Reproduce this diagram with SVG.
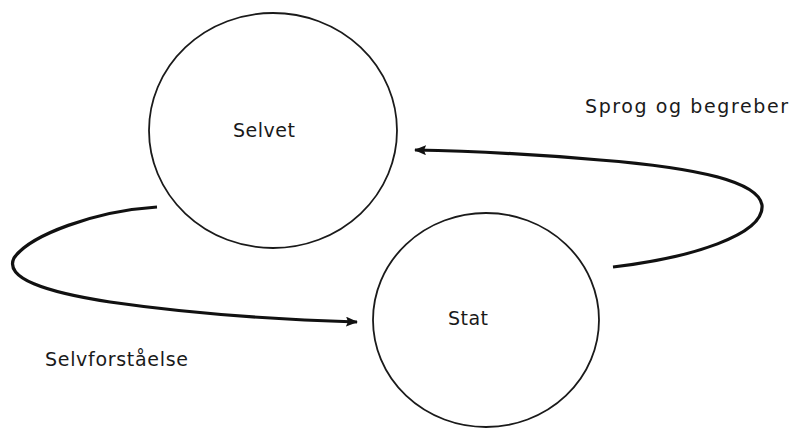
<svg xmlns="http://www.w3.org/2000/svg" width="793" height="428" viewBox="0 0 793 428">
<defs>
<style>
.node{fill:#fff;stroke:#1a1a1a;stroke-width:1.8}
.lbl{font-family:"DejaVu Sans","Liberation Sans",sans-serif;font-size:19px;fill:#1a1a1a}
.conn{fill:none;stroke:#111;stroke-width:3.2;stroke-linecap:butt}
</style>
<marker id="ah" viewBox="0 0 12 10" refX="11" refY="5" markerWidth="12" markerHeight="10" markerUnits="userSpaceOnUse" orient="auto">
<path d="M0,0 L12,5 L0,10 L2,5 Z" fill="#111"/>
</marker>
</defs>
<rect width="793" height="428" fill="#fff"/>
<g id="selvet">
<ellipse class="node" cx="273" cy="130.5" rx="124" ry="117.5"/>
<text class="lbl" x="233" y="137" textLength="62" lengthAdjust="spacing">Selvet</text>
</g>
<g id="stat">
<ellipse class="node" cx="486" cy="320" rx="113" ry="107"/>
<text class="lbl" x="448" y="325" textLength="40" lengthAdjust="spacing">Stat</text>
</g>
<g id="connectors">
<path class="conn" marker-end="url(#ah)" d="M613,267 C690,258 765,235 762,205 C758,182 700,168 600,160 C530,154 470,151 415,150"/>
<path class="conn" marker-end="url(#ah)" d="M157,207 C95,211 30,235 14,258 C4,278 45,292 110,302 C200,315 290,320 357,322"/>
</g>
<g id="labels">
<text class="lbl" x="585" y="113" textLength="203" lengthAdjust="spacing">Sprog og begreber</text>
<text class="lbl" x="45" y="366" textLength="143" lengthAdjust="spacing">Selvforståelse</text>
</g>
</svg>
